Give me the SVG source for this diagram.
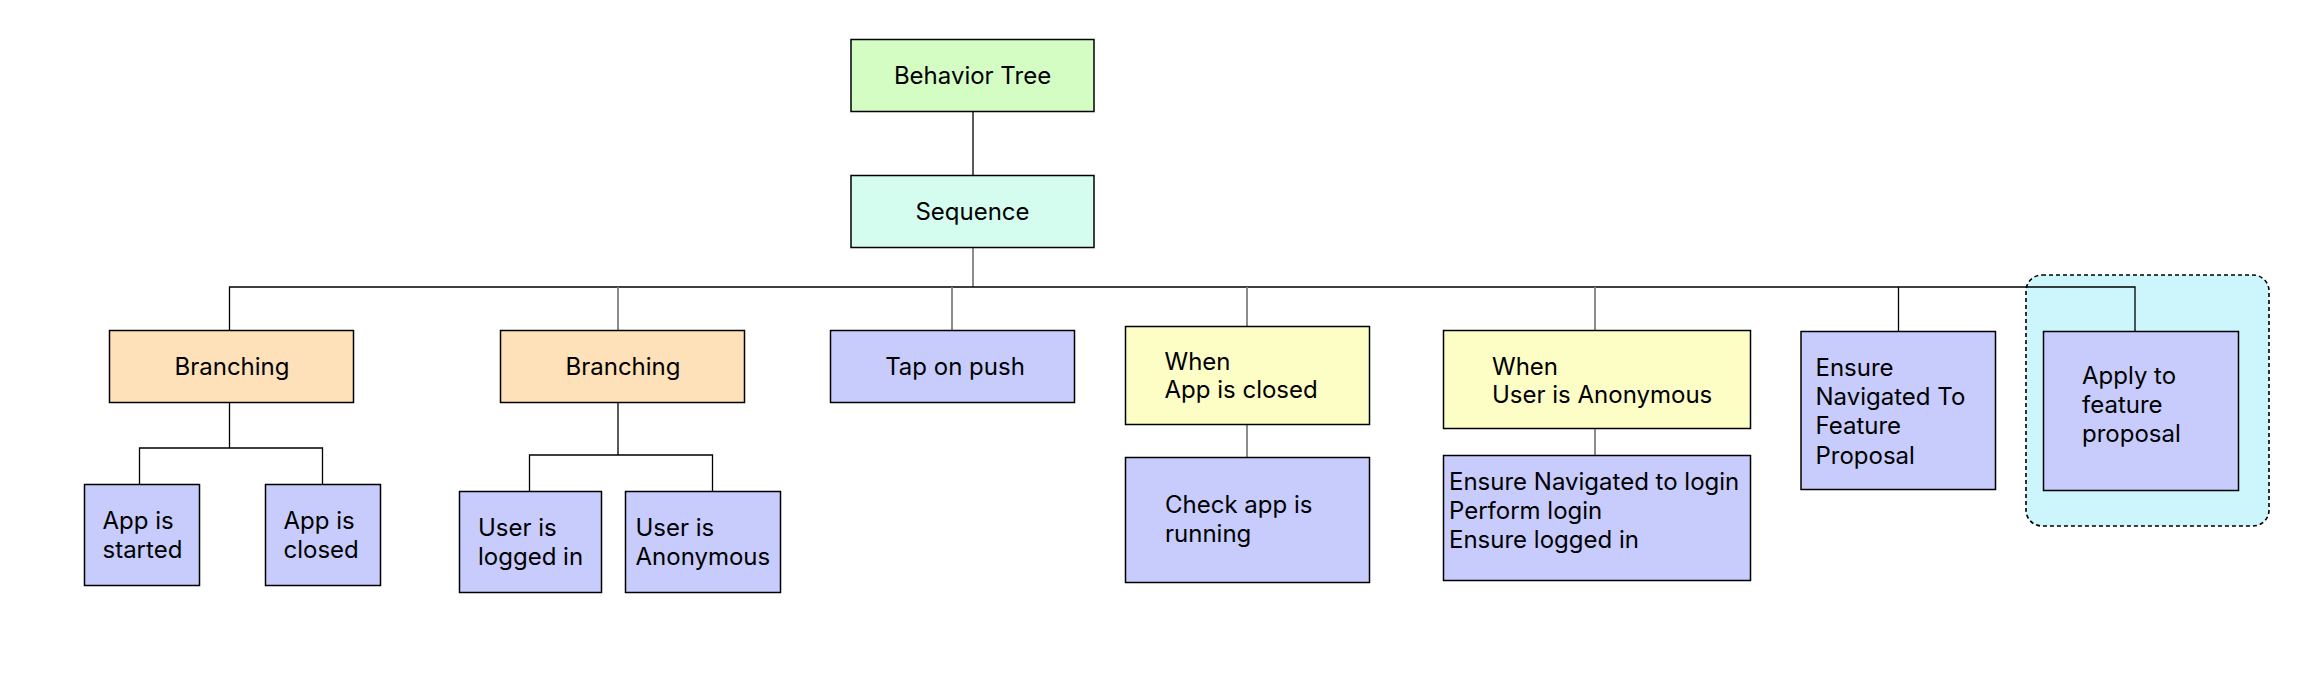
<svg xmlns="http://www.w3.org/2000/svg" width="2297" height="681" viewBox="0 0 2297 681">
<style>
.n{stroke:#000;stroke-width:1.5}
.g{fill:#d4fdc4}.s{fill:#d4fdf0}.b{fill:#ffe1b9}.a{fill:#c7ccfd}.y{fill:#fdfdc6}
text{font-family:Inter,"Noto Sans","Liberation Sans",sans-serif;font-size:24px;fill:#000}
.c{text-anchor:middle}
.k{fill:none;stroke:#000;stroke-width:1.3}
.gr{fill:none;stroke:#808080;stroke-width:1.8}
</style>
<rect id="group" x="2026" y="275" width="243" height="251" rx="16" fill="#ccf6fb" stroke="#000" stroke-width="1.6" stroke-dasharray="4 3"/>
<g id="connectors">
<path class="k" d="M973 111V175"/>
<path class="gr" d="M973 247V287"/>
<path class="k" d="M229.5 330V287H2135V331"/>
<path class="gr" d="M618 287V330M952 287V330M1247 287V326M1247 424V457M1595 287V330M1595 428V455"/>
<path class="k" d="M1898.5 287V331"/>
<path class="k" d="M229.5 402V448H139.5V484M229.5 448H322.5V484"/>
<path class="k" d="M618 402V455H529.5V491.5M618 455H712.5V491.5"/>
</g>
<g id="behavior-tree"><rect class="n g" x="851" y="39.5" width="243" height="72"/><text class="c" x="972.5" y="84">Behavior Tree</text></g>
<g id="sequence"><rect class="n s" x="851" y="175.5" width="243" height="72"/><text class="c" x="972.5" y="220">Sequence</text></g>
<g id="branching-1"><rect class="n b" x="109.5" y="330.5" width="244" height="72"/><text class="c" x="232" y="374.5">Branching</text></g>
<g id="branching-2"><rect class="n b" x="500.5" y="330.5" width="244" height="72"/><text class="c" x="623" y="374.5">Branching</text></g>
<g id="tap-on-push"><rect class="n a" x="830.5" y="330.5" width="244" height="72"/><text class="c" x="955" y="375">Tap on push</text></g>
<g id="when-app-closed"><rect class="n y" x="1125.5" y="326.5" width="244" height="98"/><text x="1164.5" y="369.5">When</text><text x="1164.5" y="398">App is closed</text></g>
<g id="check-app-running"><rect class="n a" x="1125.5" y="457.5" width="244" height="125"/><text x="1165" y="513">Check app is</text><text x="1165" y="542">running</text></g>
<g id="when-user-anonymous"><rect class="n y" x="1443.5" y="330.5" width="307" height="98"/><text x="1492" y="375">When</text><text x="1492" y="403">User is Anonymous</text></g>
<g id="ensure-login"><rect class="n a" x="1443.5" y="455.5" width="307" height="125"/><text x="1449" y="490">Ensure Navigated to login</text><text x="1449" y="519">Perform login</text><text x="1449" y="548">Ensure logged in</text></g>
<g id="ensure-feature"><rect class="n a" x="1801" y="331.5" width="194.5" height="158"/><text x="1815.5" y="376">Ensure</text><text x="1815.5" y="405">Navigated To</text><text x="1815.5" y="434">Feature</text><text x="1815.5" y="463.5">Proposal</text></g>
<g id="apply-feature"><rect class="n a" x="2043.5" y="331.5" width="195" height="159"/><text x="2082" y="384">Apply to</text><text x="2082" y="413">feature</text><text x="2082" y="442">proposal</text></g>
<g id="app-started"><rect class="n a" x="84.5" y="484.5" width="115" height="101"/><text x="102.5" y="529">App is</text><text x="102.5" y="557.5">started</text></g>
<g id="app-closed"><rect class="n a" x="265.5" y="484.5" width="115" height="101"/><text x="283.5" y="529">App is</text><text x="283.5" y="557.5">closed</text></g>
<g id="user-logged-in"><rect class="n a" x="459.5" y="491.5" width="142" height="101"/><text x="478" y="535.5">User is</text><text x="478" y="564.5">logged in</text></g>
<g id="user-anonymous"><rect class="n a" x="625.5" y="491.5" width="155" height="101"/><text x="635.5" y="535.5">User is</text><text x="635.5" y="564.5">Anonymous</text></g>
</svg>
